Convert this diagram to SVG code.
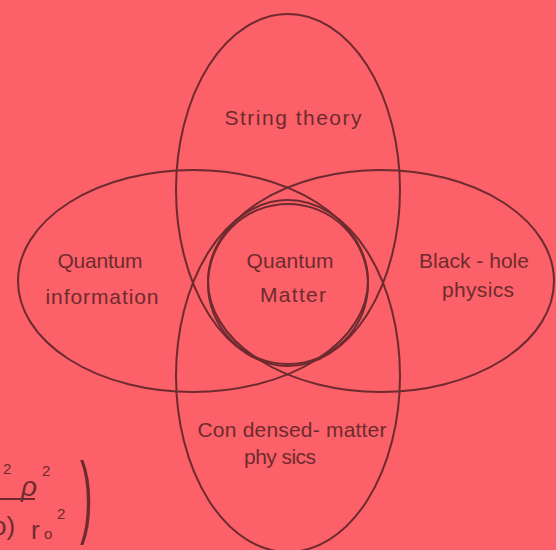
<svg xmlns="http://www.w3.org/2000/svg" width="556" height="550" viewBox="0 0 556 550">
  <style>
    .shape { fill: none; stroke: #6e2b2f; stroke-width: 2; }
    .lbl { font-family: "Liberation Sans", "DejaVu Sans", sans-serif; font-size: 21px; fill: #6e2b2f; text-anchor: middle; }
    .math { font-family: "Liberation Sans", "DejaVu Sans", sans-serif; fill: #6e2b2f; }
  </style>
  <rect x="0" y="0" width="556" height="550" fill="#fc6068"/>
  <g id="string-theory">
    <ellipse class="shape" cx="288" cy="190" rx="112" ry="176"/>
    <text class="lbl" x="293" y="125" textLength="137" lengthAdjust="spacing">String theory</text>
  </g>
  <g id="quantum-information">
    <ellipse class="shape" cx="193" cy="281" rx="175" ry="111"/>
    <text class="lbl" x="100" y="268" textLength="85" lengthAdjust="spacing">Quantum</text>
    <text class="lbl" x="102" y="304" textLength="113" lengthAdjust="spacing">information</text>
  </g>
  <g id="black-hole-physics">
    <ellipse class="shape" cx="381" cy="281" rx="173" ry="111"/>
    <text class="lbl" x="474" y="268" textLength="110" lengthAdjust="spacing">Black - hole</text>
    <text class="lbl" x="478" y="297" textLength="72" lengthAdjust="spacing">physics</text>
  </g>
  <g id="condensed-matter-physics">
    <ellipse class="shape" cx="288" cy="376" rx="112" ry="176"/>
    <text class="lbl" x="292" y="437" textLength="189" lengthAdjust="spacing">Con densed- matter</text>
    <text class="lbl" x="280" y="464" textLength="72" lengthAdjust="spacing">phy sics</text>
  </g>
  <g id="quantum-matter">
    <circle class="shape" cx="288" cy="284" r="80"/>
    <text class="lbl" x="290" y="268" textLength="87" lengthAdjust="spacing">Quantum</text>
    <text class="lbl" x="293" y="302" textLength="66" lengthAdjust="spacing">Matter</text>
  </g>
  <g id="formula">
    <text class="math" x="3" y="474" font-size="15">2</text>
    <text class="math" x="21" y="496" font-size="28" font-style="italic">ρ</text>
    <text class="math" x="42" y="476" font-size="15">2</text>
    <line x1="0" y1="499" x2="35" y2="499" stroke="#6e2b2f" stroke-width="2"/>
    <text class="math" x="-8" y="535" font-size="26">o)</text>
    <text class="math" x="31" y="539" font-size="26">r</text>
    <text class="math" x="44" y="539" font-size="15">o</text>
    <text class="math" x="57" y="519" font-size="15">2</text>
    <text class="math" x="0" y="0" font-size="90" transform="translate(80,526) scale(0.42,1)">)</text>
  </g>
</svg>
